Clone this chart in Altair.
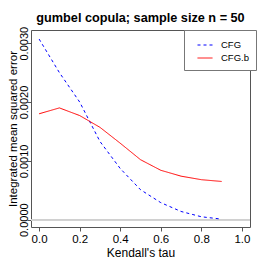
import altair as alt
import pandas as pd

tau = [0.0, 0.1, 0.2, 0.3, 0.4, 0.5, 0.6, 0.7, 0.8, 0.9]
cfg = [0.00307, 0.00250, 0.00200, 0.00133, 0.00087, 0.00051, 0.00029, 0.00014, 0.00005, 0.00001]
cfg_b = [0.00180, 0.00190, 0.00177, 0.00157, 0.00130, 0.00102, 0.00084, 0.00074, 0.00068, 0.00065]
series_names = ["CFG", "CFG.b"]
x_ticks = [0.0, 0.2, 0.4, 0.6, 0.8, 1.0]
y_ticks = [0.0, 0.0005, 0.0010, 0.0015, 0.0020, 0.0025, 0.0030]

df = pd.DataFrame({
    "tau": tau * 2,
    "imse": cfg + cfg_b,
    "method": [series_names[0]] * len(tau) + [series_names[1]] * len(tau),
})

FONT = "Liberation Sans"

xscale = alt.Scale(domain=[-0.04, 1.04], nice=False, zero=False)
yscale = alt.Scale(domain=[-0.000124, 0.003224], nice=False, zero=False)

legend_props = dict(title=None, orient="none", legendX=153, legendY=0,
                    symbolType="stroke", symbolSize=225,
                    symbolStrokeWidth=1, symbolOffset=6,
                    labelOffset=8, labelFontSize=9.5,
                    rowPadding=-4, padding=7,
                    strokeColor="#777", fillColor="white",
                    cornerRadius=0)

zero_line = alt.Chart(df).mark_rule(color="#d0d0d0", strokeWidth=1).encode(
    y=alt.datum(0.0, scale=yscale)
)

lines = alt.Chart(df).mark_line(strokeWidth=1, clip=True).encode(
    x=alt.X("tau:Q", scale=xscale,
            axis=alt.Axis(values=x_ticks, format=".1f", title="Kendall's tau",
                          tickSize=4, labelPadding=2, labelFontSize=11.5,
                          titleFontSize=12, titleFontWeight="normal",
                          titleY=29, titleBaseline="alphabetic",
                          labelFlush=False, grid=False, domain=False)),
    y=alt.Y("imse:Q", scale=yscale,
            axis=alt.Axis(values=y_ticks,
                          labelExpr="round(datum.value*10000) % 10 == 0 ? format(datum.value, '.4f') : ''",
                          title="Integrated mean squared error",
                          tickSize=4, labelPadding=0, labelAngle=-90,
                          labelAlign="center", labelBaseline="alphabetic",
                          labelFontSize=11, labelOverlap=False, labelFlush=False,
                          titleFontSize=11.5, titleFontWeight="normal",
                          titleAngle=-90, titleBaseline="alphabetic",
                          titleX=-14.5, titleY=98.5, titleAlign="center",
                          grid=False, domain=False)),
    color=alt.Color("method:N",
                    scale=alt.Scale(domain=series_names, range=["#0000ff", "#ff0000"]),
                    legend=alt.Legend(**legend_props)),
    strokeDash=alt.StrokeDash("method:N",
                              scale=alt.Scale(domain=series_names, range=[[3, 3], [1, 0]]),
                              legend=alt.Legend(**legend_props)),
)

chart = (zero_line + lines).properties(
    width=219,
    height=197,
    autosize=alt.AutoSizeParams(type="none"),
    padding={"left": 23, "top": 22, "right": 8, "bottom": 31},
    title=alt.TitleParams("gumbel copula; sample size n = 50", fontSize=12.7,
                          fontWeight="bold", font=FONT, anchor="middle",
                          baseline="alphabetic", offset=9.3, dy=17.5, color="black"),
).configure(
    font=FONT,
).configure_view(
    stroke="#555", strokeWidth=1
).configure_axis(
    tickColor="#555", labelColor="black", titleColor="black", labelFont=FONT, titleFont=FONT
).configure_legend(
    labelFont=FONT, labelColor="black"
)

chart.save("out.html", embed_options={"renderer": "svg", "actions": False})
